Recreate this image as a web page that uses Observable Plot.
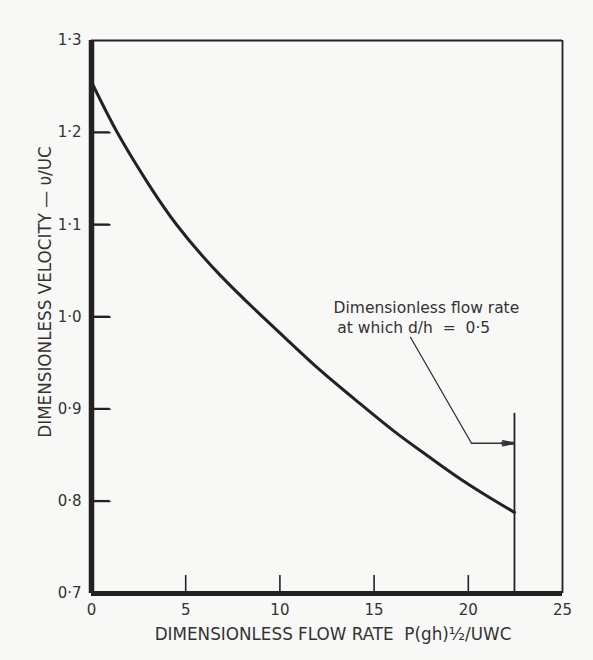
<!DOCTYPE html>
<html><head><meta charset="utf-8">
<script src="https://cdn.jsdelivr.net/npm/d3@7"></script>
<script src="https://cdn.jsdelivr.net/npm/@observablehq/plot@0.6"></script>
<style>
html,body{margin:0;padding:0;background:#f8f8f7;}
#chart svg{display:block;}
</style></head><body><div id="chart"></div>
<script>
// Data
const flowRate = [0, 1.4, 3, 4.56, 6.8, 9.2, 10.4, 12.15, 13.9, 16.0, 17.8, 19.6, 21.3, 22.45];
const velocity = [1.255, 1.199, 1.145, 1.099, 1.046, 0.998, 0.975, 0.942, 0.912, 0.877, 0.850, 0.824, 0.802, 0.788];
const xTicks = [0, 5, 10, 15, 20, 25];
const yTicks = [0.7, 0.8, 0.9, 1.0, 1.1, 1.2, 1.3];
const xInnerTicks = [5, 10, 15, 20];
const yInnerTicks = [0.8, 0.9, 1.0, 1.1, 1.2];
const limitFlowRate = 22.45;   // flow rate at which d/h = 0.5
const limitLineTop = 0.896;
const leaderX = [16.93, 20.17];
const leaderY = [0.978, 0.863];
const noteLines = ["Dimensionless flow rate", "at which d/h  =  0·5"];
const noteX = [12.85, 13.05];
const noteY = [1.010, 0.9875];
const xLabel = "DIMENSIONLESS FLOW RATE  P(gh)½/UWC";
const yLabel = "DIMENSIONLESS VELOCITY — υ/UC";

const curve = flowRate.map((x, i) => ({x, y: velocity[i]}));
const leader = leaderX.map((x, i) => ({x, y: leaderY[i]}));
const notes = noteLines.map((t, i) => ({t, x: noteX[i], y: noteY[i]}));
const yTickPts = yInnerTicks.flatMap(v => [{k: v, x: 0, y: v}, {k: v, x: 0.97, y: v}]);
const xTickSegs = xInnerTicks.map(v => ({x: v, y1: 0.7, y2: 0.72}));
const ink = "#222";
const fmt = d => d3.format(".1f")(d).replace(".", "·");

const chart = Plot.plot({
  width: 593, height: 660,
  marginLeft: 91, marginRight: 31, marginTop: 40, marginBottom: 67,
  x: {domain: [0, 25]},
  y: {domain: [0.7, 1.3]},
  style: {fontFamily: "DejaVu Sans", background: "transparent", color: ink},
  marks: [
    // frame
    Plot.ruleY([1.3], {stroke: ink, strokeWidth: 1.8}),
    Plot.ruleX([25], {stroke: ink, strokeWidth: 1.8}),
    // tick labels
    Plot.axisX({ticks: xTicks, tickSize: 0, tickPadding: 11, fontSize: 15, fill: "#333", tickFormat: d => String(d), label: null}),
    Plot.axisY({ticks: yTicks, tickSize: 0, tickPadding: 10, fontSize: 15, fill: "#333", tickFormat: fmt, label: null}),
    // inward y tick marks
    Plot.line(yTickPts, {x: "x", y: "y", z: "k", stroke: ink, strokeWidth: 1.8}),
    // axis labels
    Plot.text([xLabel], {frameAnchor: "bottom", textAnchor: "middle", dx: 6, dy: 46, fontSize: 16.8, fill: "#333"}),
    Plot.text([yLabel], {frameAnchor: "left", textAnchor: "middle", rotate: -90, dx: -46, dy: -25, fontSize: 16.8, fill: "#333"}),
    // curve
    Plot.line(curve, {x: "x", y: "y", curve: "natural", stroke: ink, strokeWidth: 3}),
    // limit line and annotation
    Plot.link([limitFlowRate], {x1: d => d, x2: d => d, y1: () => 0.7, y2: () => limitLineTop, stroke: ink, strokeWidth: 1.8}),
    Plot.line(leader, {x: "x", y: "y", stroke: "#333", strokeWidth: 1.3}),
    Plot.arrow([{x1: leaderX[1], x2: limitFlowRate, y: leaderY[1]}], {x1: "x1", x2: "x2", y1: "y", y2: "y", stroke: "#333", strokeWidth: 1.4, headLength: 13, headAngle: 24, bend: 0}),
    Plot.link([{x1: limitFlowRate - 0.7, x2: limitFlowRate - 0.05, y: leaderY[1]}], {x1: "x1", x2: "x2", y1: "y", y2: "y", stroke: "#333", strokeWidth: 3.2}),
    Plot.text(notes, {x: "x", y: "y", text: "t", textAnchor: "start", fontSize: 15.5, fill: "#333"}),
    // inner x ticks
    Plot.link(xTickSegs, {x1: "x", x2: "x", y1: "y1", y2: "y2", stroke: ink, strokeWidth: 1.6}),
    // thick axes
    Plot.ruleX([0], {stroke: ink, strokeWidth: 5.5}),
    Plot.ruleY([0.7], {stroke: ink, strokeWidth: 5})
  ]
});
// extra safety: y tick marks placed with Plot's own scales
const sx = chart.scale("x"), sy = chart.scale("y");
d3.select(chart).append("g").attr("stroke", ink).attr("stroke-width", 1.8)
  .selectAll("line").data(yInnerTicks).join("line")
  .attr("x1", sx.apply(0)).attr("x2", sx.apply(0.97))
  .attr("y1", d => sy.apply(d)).attr("y2", d => sy.apply(d));
document.getElementById("chart").appendChild(chart);
</script></body></html>
